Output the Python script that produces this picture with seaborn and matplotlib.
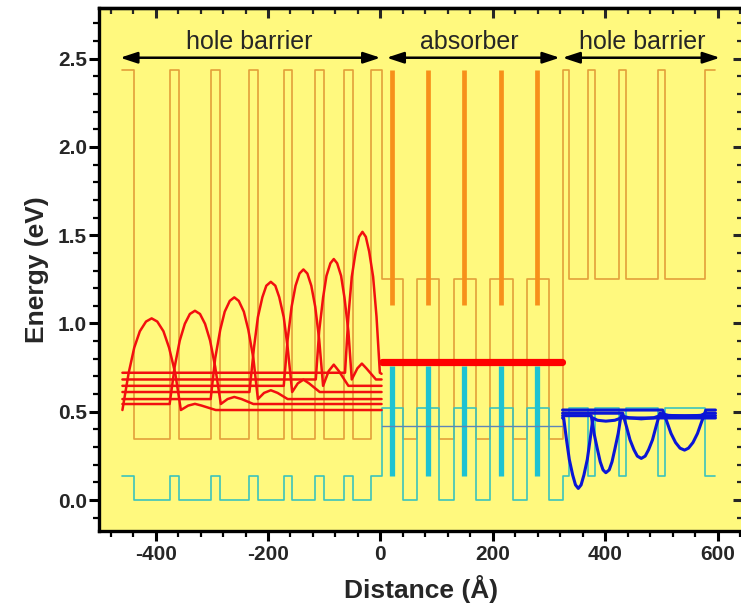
import matplotlib
matplotlib.use("Agg")
import matplotlib.pyplot as plt
import seaborn as sns
from matplotlib.ticker import MultipleLocator

# layer boundaries (Angstrom) and band-edge levels (eV)
left_bounds = [-459, -439, -374, -358, -301, -285, -234, -218, -172, -158, -116, -101, -65, -49, -17, 2]
left_cb = [2.435, 0.345, 2.435, 0.345, 2.435, 0.345, 2.435, 0.345, 2.435, 0.345, 2.435, 0.345, 2.435, 0.345, 2.435]
left_vb = [0.135, 0.0, 0.135, 0.0, 0.135, 0.0, 0.135, 0.0, 0.135, 0.0, 0.135, 0.0, 0.135, 0.0, 0.135]

abs_bounds = [2, 40, 65, 104, 130, 170, 195, 235, 260, 300, 324]
abs_cb = [1.25, 0.345, 1.25, 0.345, 1.25, 0.345, 1.25, 0.345, 1.25, 0.345]
abs_vb = [0.52, 0.0, 0.52, 0.0, 0.52, 0.0, 0.52, 0.0, 0.52, 0.0]

right_bounds = [324, 336, 369, 381, 425, 437, 493, 506, 577, 596]
right_cb = [2.435, 1.25, 2.435, 1.25, 2.435, 1.25, 2.435, 1.25, 2.435]
right_vb = [0.135, 0.52, 0.135, 0.52, 0.135, 0.52, 0.135, 0.52, 0.135]

# thin interlayers inside the absorber
spike_x = [21, 84, 149, 214, 279]
spike_cb = [2.435, 1.105]
spike_vb = [0.76, 0.135]

absorber_e_level = 0.78
absorber_h_level = 0.42
absorber_span = [2, 323]

# electron states in the left hole barrier (red)
red_x0 = [-459, -448, -438, -428, -417, -407, -397, -386, -376, -365, -355, -342, -330, -318, -293, 2]
red_y0 = [0.51, 0.718, 0.863, 0.956, 1.011, 1.029, 1.011, 0.956, 0.863, 0.718, 0.51, 0.535, 0.545, 0.535, 0.51, 0.51]
red_x1 = [-459, -375, -366, -357, -348, -339, -330, -321, -312, -303, -294, -284, -272, -260, -247, -226, 2]
red_y1 = [0.544, 0.544, 0.755, 0.903, 0.998, 1.054, 1.072, 1.054, 0.998, 0.903, 0.755, 0.544, 0.572, 0.584, 0.572, 0.544, 0.544]
red_x2 = [-459, -302, -294, -285, -277, -268, -260, -252, -243, -235, -226, -218, -207, -195, -183, -165, 2]
red_y2 = [0.572, 0.572, 0.802, 0.964, 1.067, 1.128, 1.148, 1.128, 1.067, 0.964, 0.802, 0.572, 0.607, 0.622, 0.607, 0.572, 0.572]
red_x3 = [-459, -233, -225, -218, -210, -203, -195, -187, -180, -172, -165, -157, -147, -137, -127, -108, 2]
red_y3 = [0.612, 0.612, 0.862, 1.036, 1.149, 1.214, 1.236, 1.214, 1.149, 1.036, 0.862, 0.612, 0.661, 0.682, 0.661, 0.612, 0.612]
red_x4 = [-459, -172, -165, -158, -151, -144, -137, -130, -123, -116, -109, -102, -92, -83, -74, -57, 2]
red_y4 = [0.647, 0.647, 0.911, 1.095, 1.214, 1.283, 1.306, 1.283, 1.214, 1.095, 0.911, 0.647, 0.731, 0.767, 0.731, 0.647, 0.647]
red_x5 = [-459, -115, -109, -102, -96, -89, -83, -77, -70, -64, -57, -51, -41, -33, -25, -8, 2]
red_y5 = [0.683, 0.683, 0.956, 1.147, 1.27, 1.341, 1.365, 1.341, 1.27, 1.147, 0.956, 0.683, 0.746, 0.773, 0.746, 0.683, 0.683]
red_x6 = [-459, -63, -57, -51, -44, -38, -32, -26, -20, -13, -7, -1, 2]
red_y6 = [0.721, 0.721, 1.04, 1.264, 1.407, 1.491, 1.519, 1.491, 1.407, 1.264, 1.04, 0.721, 0.715]

# hole states in the right hole barrier (blue)
blue_x0 = [324, 326, 331, 336, 342, 347, 352, 357, 362, 368, 373, 378, 386, 401, 417, 428, 596]
blue_y0 = [0.465, 0.465, 0.342, 0.23, 0.142, 0.086, 0.066, 0.086, 0.142, 0.23, 0.342, 0.465, 0.452, 0.447, 0.452, 0.465, 0.465]
blue_x1 = [324, 375, 380, 386, 391, 396, 401, 407, 412, 417, 423, 428, 442, 464, 486, 497, 596]
blue_y1 = [0.478, 0.478, 0.378, 0.288, 0.217, 0.171, 0.155, 0.171, 0.217, 0.288, 0.378, 0.478, 0.466, 0.46, 0.466, 0.478, 0.478]
blue_x2 = [324, 431, 438, 444, 451, 457, 464, 471, 477, 484, 490, 497, 512, 541, 570, 579, 596]
blue_y2 = [0.492, 0.492, 0.413, 0.341, 0.285, 0.249, 0.236, 0.249, 0.285, 0.341, 0.413, 0.492, 0.48, 0.475, 0.48, 0.492, 0.492]
blue_x3 = [324, 502, 510, 517, 525, 533, 541, 548, 556, 564, 571, 579, 596]
blue_y3 = [0.51, 0.51, 0.44, 0.377, 0.326, 0.294, 0.283, 0.294, 0.326, 0.377, 0.44, 0.51, 0.51]

# region labels
region_names = ["hole barrier", "absorber", "hole barrier"]
region_text_x = [-233, 159, 465]
region_arrows = [(-463, 0), (11, 319), (324, 604)]

x_ticks = [-400, -200, 0, 200, 400, 600]
y_ticks = [0.0, 0.5, 1.0, 1.5, 2.0, 2.5]

ORANGE = "#E3A03A"
ORANGE_THICK = "#F7901A"
CYAN = "#3CC3BC"
CYAN_THICK = "#1EC3D2"
RED = "#F20F0F"
BLUE = "#0B16D6"
BG = "#FFF97E"

sns.set_style("ticks")
plt.rcParams["font.family"] = ["Liberation Sans", "DejaVu Sans"]

fig = plt.figure(figsize=(7.41, 6.09), dpi=100)
ax = fig.add_axes([0.1341, 0.1281, 0.8686, 0.8583])
ax.set_facecolor(BG)

# band edges as step profiles built from the layer tables
step_x = left_bounds + abs_bounds[1:] + right_bounds[1:]
cb_y = left_cb + abs_cb + right_cb
vb_y = left_vb + abs_vb + right_vb
cb_y = cb_y + [cb_y[-1]]
vb_y = vb_y + [vb_y[-1]]
sns.lineplot(x=step_x, y=cb_y, sort=False, estimator=None, color=ORANGE,
             linewidth=1.2, drawstyle="steps-post", ax=ax)
sns.lineplot(x=step_x, y=vb_y, sort=False, estimator=None, color=CYAN,
             linewidth=1.2, drawstyle="steps-post", ax=ax)

ax.vlines(spike_x, spike_cb[1], spike_cb[0], color=ORANGE_THICK, linewidth=3.4)
ax.vlines(spike_x, spike_vb[1], spike_vb[0], color=CYAN_THICK, linewidth=3.8)

sns.lineplot(x=absorber_span, y=[absorber_h_level] * 2, color="#5F84B8",
             linewidth=1.0, ax=ax)
sns.lineplot(x=absorber_span, y=[absorber_e_level] * 2, color="#FF0000",
             linewidth=5.2, ax=ax)

red_states = [(red_x0, red_y0), (red_x1, red_y1), (red_x2, red_y2), (red_x3, red_y3),
              (red_x4, red_y4), (red_x5, red_y5), (red_x6, red_y6)]
for xs, ys in red_states:
    sns.lineplot(x=xs, y=ys, sort=False, estimator=None, color=RED,
                 linewidth=1.8, ax=ax)

blue_states = [(blue_x0, blue_y0), (blue_x1, blue_y1), (blue_x2, blue_y2), (blue_x3, blue_y3)]
for xs, ys in blue_states:
    sns.lineplot(x=xs, y=ys, sort=False, estimator=None, color=BLUE,
                 linewidth=2.2, ax=ax)

for name, tx, (a, b) in zip(region_names, region_text_x, region_arrows):
    ax.annotate("", xy=(a, 2.505), xytext=(b, 2.505),
                arrowprops=dict(arrowstyle="<|-|>,head_length=0.85,head_width=0.28",
                                color="black", lw=1.8, shrinkA=0, shrinkB=0,
                                mutation_scale=12))
    ax.text(tx, 2.555, name, ha="center", va="baseline", fontsize=18)

ax.set_xlim(-500, 645)
ax.set_ylim(-0.175, 2.785)
ax.set_xticks(x_ticks)
ax.set_xticklabels([str(v) for v in x_ticks], fontweight="bold", fontsize=15)
ax.set_yticks(y_ticks)
ax.set_yticklabels([f"{v:.1f}" for v in y_ticks], fontweight="bold", fontsize=15)
ax.xaxis.set_minor_locator(MultipleLocator(40))
ax.yaxis.set_minor_locator(MultipleLocator(0.1))
ax.tick_params(which="major", direction="out", length=7, width=2.2, pad=3, color="black")
ax.tick_params(which="minor", direction="out", length=4, width=1.6, color="black")
ax.tick_params(axis="y", pad=2)

ax.set_xlabel("Distance (Å)", fontsize=19, fontweight="bold", labelpad=8)
ax.set_ylabel("Energy (eV)", fontsize=19, fontweight="bold", labelpad=6)

for sp in ax.spines.values():
    sp.set_linewidth(2.4)
    sp.set_color("black")

top = ax.secondary_xaxis("top")
top.set_xticks(x_ticks)
top.xaxis.set_minor_locator(MultipleLocator(40))
top.tick_params(which="major", direction="in", length=7, width=2.2, labeltop=False)
top.tick_params(which="minor", direction="in", length=4, width=1.6)
top.spines["top"].set_linewidth(2.4)

right = ax.secondary_yaxis("right")
right.set_yticks(y_ticks)
right.yaxis.set_minor_locator(MultipleLocator(0.1))
right.tick_params(which="major", direction="in", length=7, width=2.2, labelright=False)
right.tick_params(which="minor", direction="in", length=4, width=1.6)
right.spines["right"].set_linewidth(2.4)

fig.savefig("out.png", dpi=100, facecolor="white")
